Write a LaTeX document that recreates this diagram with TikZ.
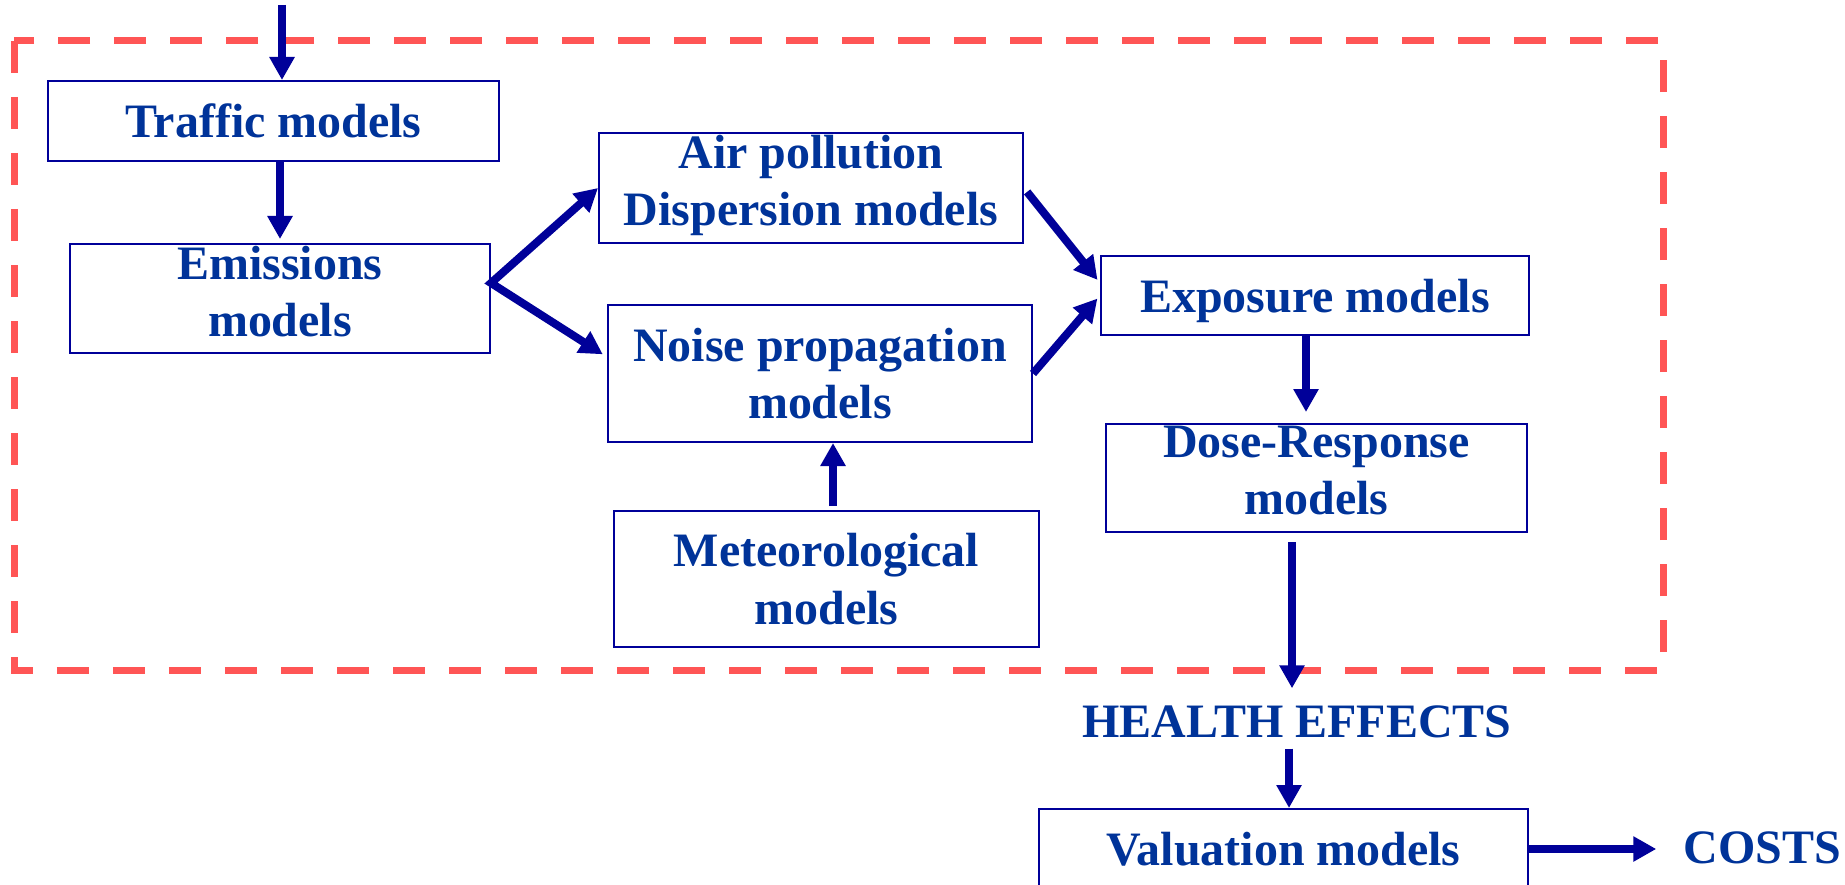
\documentclass[tikz,border=0pt]{standalone}
\usepackage{fontspec}
\setmainfont{Liberation Serif}
\usepackage{tikz}
\usetikzlibrary{arrows.meta,positioning,calc}
\definecolor{lineBlue}{HTML}{000099}
\definecolor{textBlue}{HTML}{003399}
\definecolor{zoneRed}{HTML}{FF5555}

\begin{document}
\begin{tikzpicture}[font=\fontsize{27.3}{32.6}\selectfont\bfseries,
  >={Triangle[length=0.46cm,width=0.48cm]},
  every node/.style={inner sep=1pt},
  box/.style={draw=lineBlue,line width=0.04cm,text=textBlue,align=center},
  lbl/.style={text=textBlue,align=center},
  flow/.style={->,lineBlue,line width=0.16cm},
  zone/.style={zoneRed,line width=0.14cm,dash pattern=on 0.64cm off 0.48cm}]
\useasboundingbox (0,0) rectangle (36.9,-17.7);
% --- dashed frame round the model chain ---
\draw[zone] (0.28,-0.82) rectangle (33.26,-13.40);
% --- model boxes ---
\node[box,minimum width=9.02cm,minimum height=1.60cm] (traffic) at (5.47,-2.42) {Traffic models};
\node[box,minimum width=8.40cm,minimum height=2.18cm,
  label={[lbl,yshift=0.145cm]center:Emissions\\models}] (emis) at (5.60,-5.97) {};
\node[box,minimum width=8.48cm,minimum height=2.20cm,
  label={[lbl,yshift=0.055cm]center:Air pollution\\Dispersion models}] (air) at (16.22,-3.76) {};
\node[box,minimum width=8.48cm,minimum height=2.74cm] (noise) at (16.40,-7.47) {Noise propagation\\models};
\node[box,minimum width=8.50cm,minimum height=2.72cm] (meteo) at (16.53,-11.58) {Meteorological\\models};
\node[box,minimum width=8.56cm,minimum height=1.58cm,text depth=0pt] (expo) at (26.30,-5.91) {Exposure models};
\node[box,minimum width=8.42cm,minimum height=2.16cm,
  label={[lbl,yshift=0.155cm]center:Dose-Response\\models}] (dose) at (26.33,-9.56) {};
\node[lbl] (health) at (25.94,-14.43) {HEALTH EFFECTS};
\node[box,minimum width=9.78cm,minimum height=1.60cm] (val) at (25.67,-16.98) {Valuation models};
\node[lbl] (costs) at (35.24,-16.95) {COSTS};
% --- connectors ---
\coordinate (src) at (5.64,-0.10);
\draw[flow] (src) -- (src |- traffic.north);
\draw[flow,shorten >=0.08cm] (traffic.south -| emis.north) -- (emis.north);
\draw[flow,<->,shorten >=0.1cm] (air.west) -- ([yshift=0.31cm]emis.east) -- ([yshift=0.33cm]noise.west);
\draw[flow,shorten <=0.1cm,shorten >=0.08cm] (air.east) -- ([yshift=0.25cm]expo.west);
\draw[flow,shorten >=0.08cm] (noise.east) -- (expo.west);
\draw[flow,shorten <=0.08cm] ([xshift=0.13cm]meteo.north) -- ([xshift=0.13cm]meteo.north |- noise.south);
\draw[flow,shorten >=0.22cm] ([xshift=-0.18cm]expo.south) -- ([xshift=-0.18cm]expo.south |- dose.north);
\draw[flow,shorten <=0.18cm,shorten >=0.3cm] ([xshift=-0.49cm]dose.south) -- ([xshift=-0.49cm]dose.south |- health.north);
\draw[flow,shorten <=0.18cm] ([xshift=0.11cm]val.north |- health.south) -- ([xshift=0.11cm]val.north);
\draw[flow,shorten >=0.5cm] (val.east) -- (val.east -| costs.west);
\end{tikzpicture}
\end{document}
